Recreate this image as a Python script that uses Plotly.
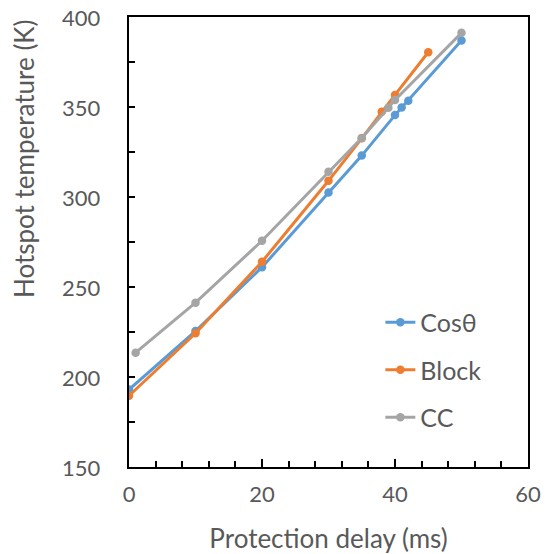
import plotly.graph_objects as go

cos_x = [0, 10, 20, 30, 35, 40, 41, 42, 50]
cos_y = [193, 225.5, 261, 302.5, 323, 345.5, 349.7, 353.5, 387]

block_x = [0, 10, 20, 30, 35, 38, 40, 45]
block_y = [189.6, 224.3, 264, 309, 332.6, 347.4, 356.7, 380.4]

cc_x = [1, 10, 20, 30, 35, 39, 40, 50]
cc_y = [213.5, 241.3, 275.7, 314, 332.8, 349.6, 353.9, 391.2]

y_tick_vals = [150, 200, 250, 300, 350, 400]
y_tick_labels = ["150", "200", "250", "300", "350", "400"]

series = [
    ("Cosθ", cos_x, cos_y, "#5B9BD5"),
    ("Block", block_x, block_y, "#ED7D31"),
    ("CC", cc_x, cc_y, "#A5A5A5"),
]

FONT = "Lato"
TXT = "#595959"

fig = go.Figure()
for name, xs, ys, col in series:
    fig.add_trace(go.Scatter(
        x=xs, y=ys, name=name, mode="lines+markers",
        line=dict(color=col, width=3),
        marker=dict(color=col, size=8.5),
        legendgroup=name,
    ))

annotations = [dict(
    text="Hotspot temperature (K)", textangle=-90,
    xref="paper", yref="paper", x=-0.265, y=0.685,
    xanchor="center", yanchor="middle", showarrow=False,
    font=dict(size=26, color=TXT),
)]
for v, lab in zip(y_tick_vals, y_tick_labels):
    annotations.append(dict(
        text=lab, xref="paper", yref="y", x=-0.065, y=v,
        xanchor="right", yanchor="middle", showarrow=False,
        font=dict(size=22, color=TXT),
    ))

fig.update_layout(
    width=547, height=554,
    margin=dict(l=129, r=19, t=17, b=87, autoexpand=False),
    paper_bgcolor="white", plot_bgcolor="white",
    font=dict(family=FONT, size=23, color=TXT),
    showlegend=True,
    legend=dict(
        x=0.63, y=0.372, xanchor="left", yanchor="top",
        bgcolor="rgba(0,0,0,0)", font=dict(size=25, color=TXT),
        tracegroupgap=12, itemwidth=30,
    ),
    xaxis=dict(
        range=[0, 60], dtick=20, tick0=0, automargin=False,
        ticks="inside", ticklen=8, tickcolor="black", tickwidth=1.5,
        showgrid=False, zeroline=False,
        showline=True, linecolor="black", linewidth=2, mirror=True,
        minor=dict(dtick=4, ticks="inside", ticklen=6, tickcolor="black", tickwidth=1.5),
        title=dict(text="Protection delay (ms)", font=dict(size=26, color=TXT), standoff=26),
        tickfont=dict(size=22, color=TXT),
        ticklabelstandoff=7,
    ),
    yaxis=dict(
        range=[150, 400], tickvals=y_tick_vals, automargin=False,
        ticks="inside", ticklen=6, tickcolor="black", tickwidth=1.5,
        showgrid=False, zeroline=False, showticklabels=False,
        showline=True, linecolor="black", linewidth=2, mirror=True,
        minor=dict(dtick=25, ticks="inside", ticklen=6, tickcolor="black", tickwidth=1.5),
    ),
    annotations=annotations,
)

fig.write_html(
    "out.html",
    config={"displayModeBar": False},
    post_script="document.body.style.margin='0';document.body.style.overflow='hidden';",
)
